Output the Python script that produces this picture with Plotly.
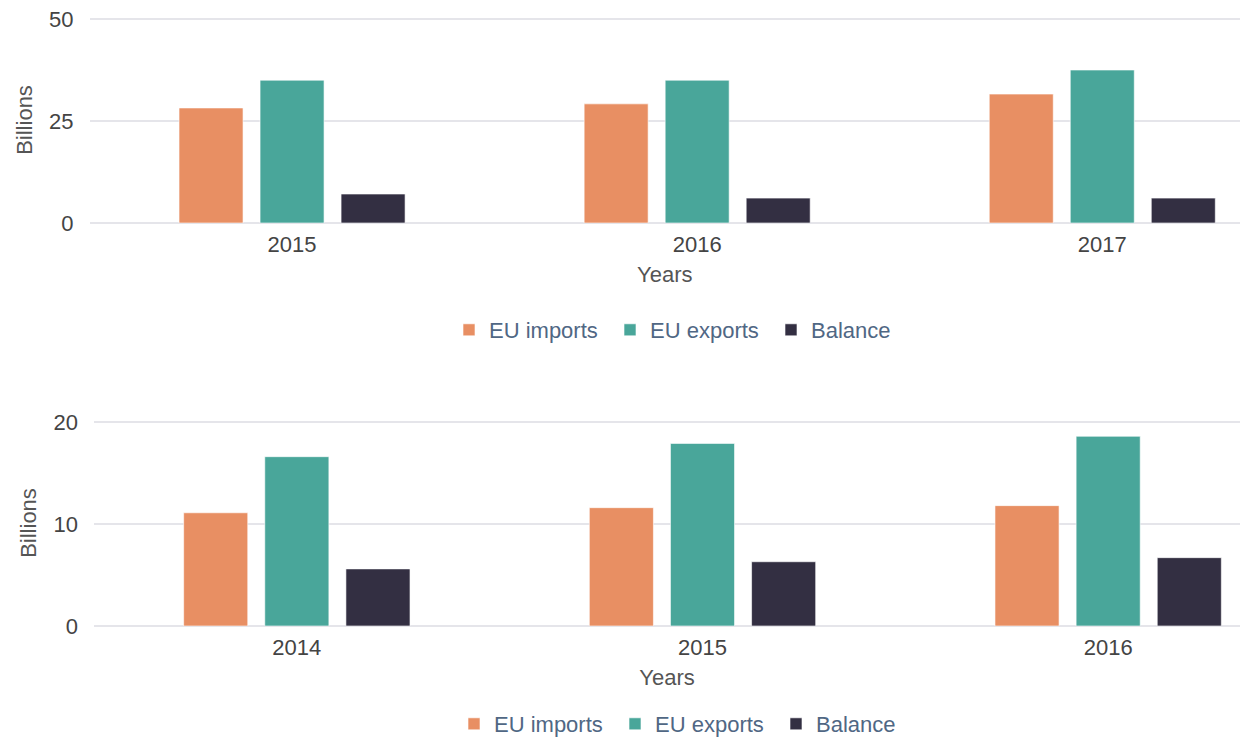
import plotly.graph_objects as go

# ---- data ----
years_top = ["2015", "2016", "2017"]
imports_top = [28.2, 29.2, 31.6]
exports_top = [35.0, 35.0, 37.5]
balance_top = [7.1, 6.1, 6.1]

years_bottom = ["2014", "2015", "2016"]
imports_bottom = [11.1, 11.6, 11.8]
exports_bottom = [16.6, 17.9, 18.6]
balance_bottom = [5.6, 6.3, 6.7]

series_names = ["EU imports", "EU exports", "Balance"]
colors = ["#E88F63", "#49A69A", "#332F42"]

FONT = "Liberation Sans, Arial, sans-serif"
W, H = 1240, 745

def px_x(p):
    return p / W

def px_y(p):
    return 1 - p / H

fig = go.Figure()

top_vals = [imports_top, exports_top, balance_top]
bot_vals = [imports_bottom, exports_bottom, balance_bottom]

bar_line = dict(color="rgba(255,255,255,0.6)", width=1)
for name, col, vals in zip(series_names, colors, top_vals):
    fig.add_trace(go.Bar(
        x=years_top, y=vals, name=name, xaxis="x", yaxis="y",
        marker=dict(color=col, line=bar_line), legend="legend",
    ))

for name, col, vals in zip(series_names, colors, bot_vals):
    fig.add_trace(go.Bar(
        x=years_bottom, y=vals, name=name, xaxis="x2", yaxis="y2",
        marker=dict(color=col, line=bar_line), legend="legend2",
    ))

tickfont = dict(family=FONT, size=22, color="#444444")
titlefont = dict(family=FONT, size=22, color="#555555")
grid = "#E5E5EA"

def xaxis(domain, rng, anchor):
    return dict(
        domain=domain, range=rng, anchor=anchor, type="category",
        showgrid=False, zeroline=False, showline=False, ticks="",
        tickfont=tickfont, ticklabelstandoff=6,
        title=dict(text="Years", font=titlefont, standoff=10),
        automargin=False, fixedrange=True,
    )

def yaxis(domain, rng, dtick, anchor):
    return dict(
        domain=domain, range=rng, anchor=anchor, dtick=dtick,
        showgrid=True, gridcolor=grid, gridwidth=1.5,
        zeroline=True, zerolinecolor=grid, zerolinewidth=1.5,
        showline=False, ticks="", tickfont=tickfont, ticklabelstandoff=15,
        ticklabeloverflow="allow",
        title=dict(text="Billions", font=titlefont, standoff=10),
        automargin=False, fixedrange=True,
    )

legend_font = dict(family=FONT, size=22, color="#506784")

fig.update_layout(
    width=W, height=H,
    margin=dict(l=0, r=0, t=0, b=0),
    paper_bgcolor="white", plot_bgcolor="white",
    barmode="group", bargap=0.4, bargroupgap=0.21,
    xaxis=xaxis([px_x(89.5), 1.0], [-0.5, 2.34], "y"),
    yaxis=yaxis([px_y(223), px_y(223 - 50.5 * 4.08)], [0, 50.5], 25, "x"),
    xaxis2=xaxis([px_x(94), 1.0], [-0.5, 2.325], "y2"),
    yaxis2=yaxis([px_y(626), px_y(626 - 20.2 * 10.2)], [0, 20.2], 10, "x2"),
    legend=dict(orientation="h", x=px_x(449), xanchor="left",
                y=px_y(330), yanchor="middle", font=legend_font,
                entrywidth=116, entrywidthmode="pixels",
                bgcolor="rgba(0,0,0,0)"),
    legend2=dict(orientation="h", x=px_x(454), xanchor="left",
                 y=0, yanchor="bottom", font=legend_font,
                 entrywidth=116, entrywidthmode="pixels",
                 bgcolor="rgba(0,0,0,0)"),
    showlegend=True,
)

fig.write_html(
    "out.html",
    config={"displayModeBar": False},
    post_script=(
        "document.body.style.margin='0';"
        "document.documentElement.style.overflow='hidden';"
        "document.body.style.overflow='hidden';"
    ),
)
